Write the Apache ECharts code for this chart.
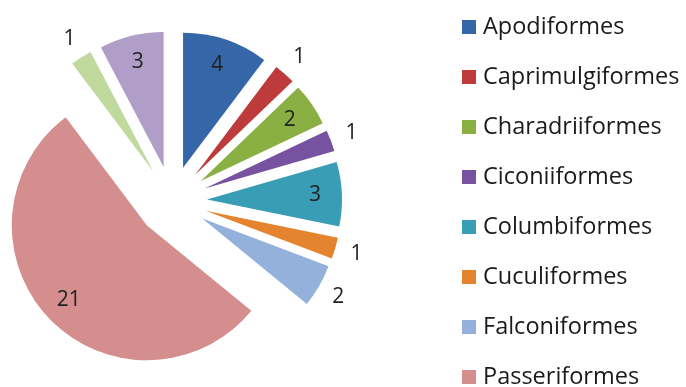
<!DOCTYPE html>
<html><head><meta charset="utf-8">
<script src="https://cdn.jsdelivr.net/npm/echarts@6/dist/echarts.min.js"></script>
<style>html,body{margin:0;padding:0;background:#fff}#c{width:686px;height:387px}</style>
</head><body><div id="c"></div>
<script>
const categories = ['Apodiformes','Caprimulgiformes','Charadriiformes','Ciconiiformes','Columbiformes','Cuculiformes','Falconiformes','Passeriformes','Piciformes','Psittaciformes'];
const values = [4,1,2,1,3,1,2,21,1,3];
const colors = ['#3567A8','#BD3B3A','#8AB043','#7652A0','#3A9DB6','#E5842F','#93B1DA','#D48E8E','#C0D99C','#B09DC8'];
const labelOutside = [false,true,false,true,false,true,true,false,true,false];

const FONT = 'Open Sans';
const CX = 172, CY = 201, R = 135, OFF = 35;

const baseData = categories.map((n,i)=>({name:n,value:values[i],selected:true,itemStyle:{color:colors[i]}}));
const common = {
  type:'pie', center:[CX,CY], startAngle:90, clockwise:true,
  selectedMode:'multiple', selectedOffset:OFF, animation:false, silent:true,
  emphasis:{disabled:true}, labelLine:{show:false}
};
const chart = echarts.init(document.getElementById('c'));
chart.setOption({
  animation:false,
  legend:{
    orient:'vertical', left:462, top:15, height:1200, padding:0,
    itemWidth:14, itemHeight:14, itemGap:26, icon:'rect',
    selectedMode:false,
    data:categories.map((n,i)=>({name:n,itemStyle:{color:colors[i]}})),
    textStyle:{fontFamily:FONT,fontSize:23.5,color:'#1a1a1a',lineHeight:24,padding:[0,0,0,2]}
  },
  series:[
    Object.assign({}, common, {
      name:'main', radius:[0,R],
      label:{show:false},
      data:baseData
    }),
    Object.assign({}, common, {
      name:'inner', radius:[R-60,R],
      itemStyle:{color:'rgba(0,0,0,0)'},
      label:{show:true,position:'inside',fontFamily:FONT,fontSize:21,color:'#222',
        formatter:p=>labelOutside[p.dataIndex]?'':String(p.value)},
      data:categories.map((n,i)=>({name:n,value:values[i],selected:true,itemStyle:{color:'rgba(0,0,0,0)'}}))
    }),
    Object.assign({}, common, {
      name:'outer', radius:[R,R+38],
      itemStyle:{color:'rgba(0,0,0,0)'},
      label:{show:true,position:'inside',fontFamily:FONT,fontSize:21,color:'#222',
        formatter:p=>labelOutside[p.dataIndex]?String(p.value):''},
      data:categories.map((n,i)=>({name:n,value:values[i],selected:true,itemStyle:{color:'rgba(0,0,0,0)'}}))
    })
  ]
});
</script></body></html>
